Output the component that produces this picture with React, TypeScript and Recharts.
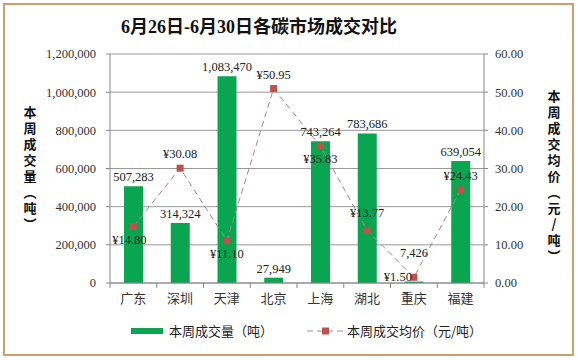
import React from "react";
import {
  ComposedChart,
  Bar,
  Line,
  XAxis,
  YAxis,
  CartesianGrid,
  LabelList,
} from "recharts";

const markets = ["广东", "深圳", "天津", "北京", "上海", "湖北", "重庆", "福建"];
const volumes = [507283, 314324, 1083470, 27949, 743264, 783686, 7426, 639054];
const prices = [14.8, 30.08, 11.1, 50.95, 35.83, 13.77, 1.5, 24.43];
const volumeTicks = [0, 200000, 400000, 600000, 800000, 1000000, 1200000];
const priceTicks = [0, 10, 20, 30, 40, 50, 60];

// where each price label sits relative to its point
const priceLabelSide = ["below", "above", "below", "above", "below", "above", "left", "above"];

const data = markets.map((m, i) => ({ market: m, volume: volumes[i], price: prices[i] }));

const W = 578;
const H = 360;
const LEFT_AXIS_W = 110;
const RIGHT_AXIS_W = 94;
const BAND = (W - LEFT_AXIS_W - RIGHT_AXIS_W) / markets.length;

const GREEN = "#0aa551";
const RED = "#c0504d";
const SERIF = "'Liberation Serif', 'Noto Sans CJK SC', serif";
const CJK = "'Noto Sans CJK SC', sans-serif";

const CategoryTick = (props: any) => {
  const { x, y, payload, index } = props;
  return (
    <g>
      <line x1={x - BAND / 2} x2={x - BAND / 2} y1={y} y2={y + 5} stroke="#888" />
      {index === markets.length - 1 && (
        <line x1={x + BAND / 2} x2={x + BAND / 2} y1={y} y2={y + 5} stroke="#888" />
      )}
      <text x={x} y={y + 20} textAnchor="middle" fontSize={13} fill="#333" fontFamily={CJK}>
        {payload.value}
      </text>
    </g>
  );
};

const SquareDot = (props: any) => {
  const { cx, cy, index } = props;
  return <rect key={`dot-${index}`} x={cx - 3.5} y={cy - 3.5} width={7} height={7} fill={RED} />;
};

const VolumeLabel = (props: any) => {
  const { x, y, width, value, index } = props;
  // the tiny 重庆 bar label is lifted clear of the price label, as in the original
  const lift = index === 6 ? 20 : 0;
  return (
    <text
      x={x + width / 2}
      y={y - 5 - lift}
      textAnchor="middle"
      fontSize={12.5}
      fill="#222"
      fontFamily={SERIF}
    >
      {Number(value).toLocaleString("en-US")}
    </text>
  );
};

const PriceLabel = (props: any) => {
  const { x, y, value, index } = props;
  const side = priceLabelSide[index];
  let tx = x;
  let ty = y;
  let anchor: "middle" | "end" = "middle";
  if (side === "above") ty = y - 10;
  if (side === "below") ty = y + 17;
  if (side === "left") {
    tx = x - 2;
    ty = y + 4;
    anchor = "end";
  }
  if (index === 0) tx = x - 4;
  if (index === 5) ty = y - 13;
  return (
    <text x={tx} y={ty} textAnchor={anchor} fontSize={12.5} fill="#222" fontFamily={SERIF}>
      {"¥" + Number(value).toFixed(2)}
    </text>
  );
};

const verticalLabel: React.CSSProperties = {
  position: "absolute",
  writingMode: "vertical-rl",
  textOrientation: "upright",
  fontFamily: CJK,
  fontWeight: 700,
  fontSize: 13,
  letterSpacing: 3,
  lineHeight: 1,
  color: "#111",
  transform: "translate(-50%, 0)",
};

export default function App() {
  return (
    <div style={{ position: "fixed", left: 0, top: 0, width: W, height: H, background: "#fff" }}>
      <div
        style={{
          position: "absolute",
          left: 3,
          top: 3,
          width: 567,
          height: 349,
          border: "2px solid #cf9f6a",
        }}
      />
      <div
        style={{
          position: "absolute",
          left: 0,
          top: 12,
          width: 518,
          textAlign: "center",
          fontFamily: SERIF,
          fontWeight: 700,
          fontSize: 18,
          color: "#111",
        }}
      >
        6月26日-6月30日各碳市场成交对比
      </div>
      <div style={{ position: "absolute", left: 0, top: 0 }}>
        <ComposedChart
          width={W}
          height={H}
          data={data}
          margin={{ top: 54, right: 0, bottom: 47, left: 0 }}
        >
          <CartesianGrid vertical={false} stroke="#999" yAxisId="left" />
          <XAxis
            dataKey="market"
            height={30}
            tickLine={false}
            tickSize={0}
            tickMargin={0}
            stroke="#888"
            tick={<CategoryTick />}
            interval={0}
          />
          <YAxis
            yAxisId="left"
            width={LEFT_AXIS_W}
            domain={[0, 1200000]}
            ticks={volumeTicks}
            tickFormatter={(v: number) => v.toLocaleString("en-US")}
            tickSize={4}
            tickMargin={10}
            stroke="#888"
            tick={{ fill: "#333", fontSize: 12.5, fontFamily: SERIF }}
          />
          <YAxis
            yAxisId="right"
            orientation="right"
            width={RIGHT_AXIS_W}
            domain={[0, 60]}
            ticks={priceTicks}
            tickFormatter={(v: number) => v.toFixed(2)}
            tickSize={4}
            tickMargin={7}
            stroke="#888"
            tick={{ fill: "#333", fontSize: 12.5, fontFamily: SERIF, textAnchor: "start" }}
          />
          <Bar yAxisId="left" dataKey="volume" fill={GREEN} barSize={19} isAnimationActive={false}>
            <LabelList dataKey="volume" content={VolumeLabel} />
          </Bar>
          <Line
            yAxisId="right"
            dataKey="price"
            stroke="#a98585"
            strokeWidth={1}
            strokeDasharray="6 4"
            dot={SquareDot}
            activeDot={false}
            isAnimationActive={false}
          >
            <LabelList dataKey="price" content={PriceLabel} />
          </Line>
        </ComposedChart>
      </div>
      <div style={{ ...verticalLabel, left: 30, top: 106 }}>本周成交量（吨）</div>
      <div style={{ ...verticalLabel, left: 554, top: 90 }}>本周成交均价（元/吨）</div>
      <div
        style={{
          position: "absolute",
          left: 131,
          top: 321,
          display: "flex",
          alignItems: "center",
          fontFamily: CJK,
          fontSize: 13,
          color: "#222",
        }}
      >
        <span style={{ display: "inline-block", width: 32, height: 6, background: GREEN, marginRight: 6 }} />
        <span style={{ width: 138 }}>本周成交量（吨）</span>
        <svg width={38} height={10} style={{ marginRight: 2 }}>
          <line x1={0} x2={38} y1={5} y2={5} stroke="#a98585" strokeDasharray="6 4" />
          <rect x={15} y={1.5} width={7} height={7} fill={RED} />
        </svg>
        <span>本周成交均价（元/吨）</span>
      </div>
    </div>
  );
}
